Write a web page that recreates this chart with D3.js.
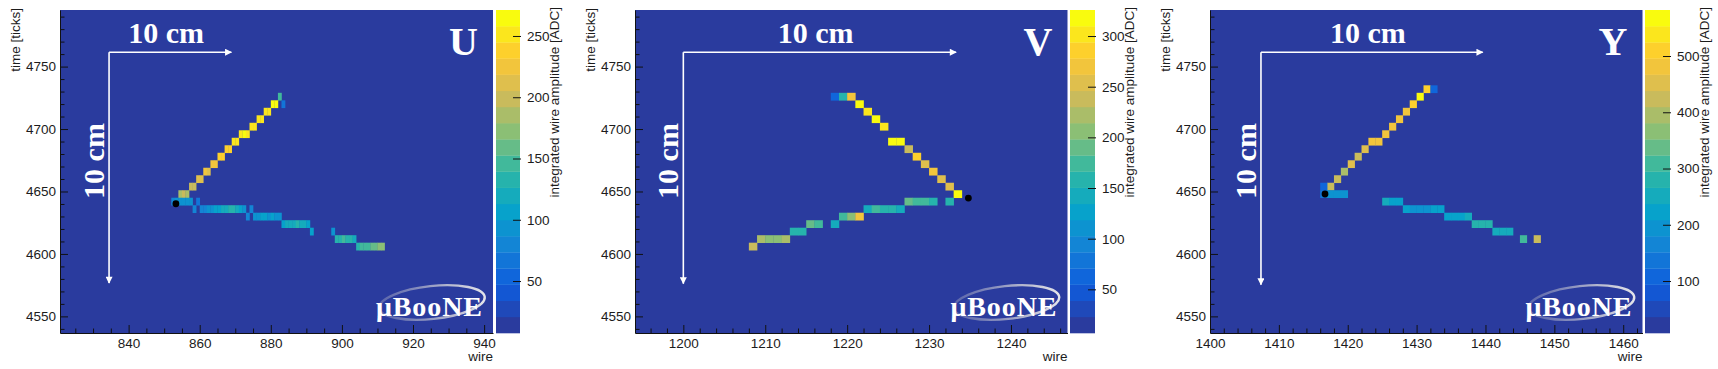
<!DOCTYPE html>
<html lang="en">
<head>
<meta charset="UTF-8">
<title>uBooNE event display - U, V, Y planes</title>
<script src="https://cdn.jsdelivr.net/npm/d3@7"></script>
<style>
  body { margin: 0; background: #fff; }
  svg text { font-family: "Liberation Sans", Arial, sans-serif; fill: #1c1c1c; }
  .serif { font-family: "Liberation Serif", "Times New Roman", serif; font-weight: bold; fill: #fff; }
  .tick line { stroke: #111; }
  .domain { stroke: #111; }
</style>
</head>
<body>
<script>
// each cell: [wire, time bin low edge (bins are 6 ticks), integrated ADC]
var uCells = [
  [882,4723,150],[883,4717,70],
  [880,4717,262],[881,4717,262],
  [878,4711,258],[879,4711,255],
  [876,4705,255],[877,4705,252],
  [874,4699,252],[875,4699,250],
  [871,4693,258],[872,4693,262],[873,4693,255],
  [869,4687,250],[870,4687,248],
  [867,4681,235],[868,4681,238],
  [865,4675,240],[866,4675,242],
  [863,4669,225],[864,4669,228],
  [861,4663,222],[862,4663,218],
  [859,4657,215],[860,4657,212],
  [857,4651,200],[858,4651,205],
  [854,4645,190],[855,4645,195],[856,4645,192],
  [852,4639,85],[853,4639,95],[854,4639,98],[855,4639,95],[856,4639,92],[857,4639,88],
  [859,4639,70],[858,4633,75],
  [860,4633,80],[861,4633,85],[862,4633,90],[863,4633,95],[864,4633,100],[865,4633,110],
  [866,4633,115],[867,4633,125],[868,4633,128],[869,4633,132],[870,4633,115],[871,4633,100],[872,4633,90],
  [873,4627,80],[874,4633,75],
  [875,4627,90],[876,4627,95],[877,4627,100],[878,4627,102],[879,4627,96],[880,4627,100],[881,4627,95],[882,4627,90],
  [883,4621,112],[884,4621,118],[885,4621,122],[886,4621,126],[887,4621,128],[888,4621,122],[889,4621,118],[890,4621,112],
  [891,4615,100],[897,4615,95],
  [898,4609,130],[899,4609,135],[900,4609,140],[901,4609,136],[902,4609,130],[903,4609,125],
  [904,4603,135],[905,4603,140],[906,4603,145],[907,4603,150],[908,4603,155],[909,4603,165],[910,4603,172],[911,4603,178]
];
var vCells = [
  [1218,4723,70],[1219,4723,160],[1220,4723,270],
  [1221,4717,310],[1222,4711,305],[1223,4705,315],[1224,4699,305],
  [1225,4687,310],[1226,4687,318],
  [1227,4681,245],[1228,4675,290],[1229,4669,255],[1230,4663,275],
  [1231,4657,250],[1232,4651,250],[1233,4645,322],
  [1232,4639,165],
  [1227,4639,190],[1228,4639,180],[1229,4639,170],[1230,4639,160],
  [1222,4633,150],[1223,4633,175],[1224,4633,160],[1225,4633,155],[1226,4633,150],
  [1219,4627,180],[1220,4627,200],[1221,4627,265],
  [1218,4621,150],[1215,4621,185],[1216,4621,180],
  [1213,4615,155],[1214,4615,160],
  [1209,4609,215],[1210,4609,210],[1211,4609,210],[1212,4609,220],
  [1208,4603,240]
];
var yCells = [
  [1431,4729,500],[1432,4729,120],
  [1430,4723,565],[1429,4717,520],[1428,4711,490],[1427,4705,480],
  [1426,4699,470],[1425,4693,480],[1423,4687,470],[1424,4687,475],
  [1422,4681,440],[1421,4675,420],[1420,4669,440],[1419,4663,400],
  [1418,4657,430],[1417,4651,410],[1416,4651,120],
  [1416,4645,130],[1417,4645,185],[1418,4645,195],[1419,4645,185],
  [1425,4639,260],[1426,4639,235],[1427,4639,225],
  [1428,4633,215],[1429,4633,205],[1430,4633,200],[1431,4633,205],[1432,4633,210],[1433,4633,235],
  [1434,4627,220],[1435,4627,225],[1436,4627,230],[1437,4627,240],
  [1438,4621,270],[1439,4621,275],[1440,4621,280],
  [1441,4615,250],[1442,4615,260],[1443,4615,265],
  [1445,4609,320],[1447,4609,420]
];

// reconstructed vertex [wire, time]
var uVertex = [853.3, 4640.2];
var vVertex = [1234.8, 4644.7];
var yVertex = [1416.7, 4648.0];

// 10 cm scale bar: [corner wire, corner time, end wire, end time]
var uScaleBar = [834.5, 4761.5, 868.9, 4576.7];
var vScaleBar = [1200, 4761.5, 1233.3, 4576.2];
var yScaleBar = [1407.4, 4761.5, 1439.6, 4575.4];

var uWireRange = [820.7, 942.5];
var vWireRange = [1194.1, 1246.9];
var yWireRange = [1400, 1462.8];
var timeRange = [4536.7, 4795.3];

var uAdcRange = [7.6, 271.2];
var vAdcRange = [6.9, 325.7];
var yAdcRange = [7.6, 581.8];

var uWireTicks = [840, 860, 880, 900, 920, 940];
var vWireTicks = [1200, 1210, 1220, 1230, 1240];
var yWireTicks = [1400, 1410, 1420, 1430, 1440, 1450, 1460];
var timeTicks = [4550, 4600, 4650, 4700, 4750];
var uAdcTicks = [50, 100, 150, 200, 250];
var vAdcTicks = [50, 100, 150, 200, 250, 300];
var yAdcTicks = [100, 200, 300, 400, 500];

var planeNames = ['U', 'V', 'Y'];

// ROOT kBird-like palette, 20 contours
var birdStops = ['#2a3b9e', '#0f5cdd', '#1481d6', '#06a4ca', '#2eb7a4', '#87bf77', '#d1bb59', '#fec832', '#f9fb0e'];
var palette = d3.scaleLinear()
  .domain(d3.range(9).map(function(i){ return i / 8; }))
  .range(birdStops)
  .interpolate(d3.interpolateRgb);
var nBands = 20;
var bandColors = d3.range(nBands).map(function(i){ return palette(i / (nBands - 1)); });

var W = 1718, H = 369, plotTop = 10, plotBottom = 333;
var fmt = d3.format('d');

var panels = [
  {cells: uCells, vertex: uVertex, bar: uScaleBar, wires: uWireRange, adc: uAdcRange, xt: uWireTicks, xMinor: 5, ct: uAdcTicks, left: 60, right: 493, cbL: 496, cbR: 520},
  {cells: vCells, vertex: vVertex, bar: vScaleBar, wires: vWireRange, adc: vAdcRange, xt: vWireTicks, xMinor: 2, ct: vAdcTicks, left: 635, right: 1067.5, cbL: 1070, cbR: 1095},
  {cells: yCells, vertex: yVertex, bar: yScaleBar, wires: yWireRange, adc: yAdcRange, xt: yWireTicks, xMinor: 2, ct: yAdcTicks, left: 1210, right: 1642.5, cbL: 1645, cbR: 1670}
];

var svg = d3.select('body').append('svg')
  .attr('width', W)
  .attr('height', H);

var defs = svg.append('defs');
defs.append('marker')
  .attr('id', 'arr')
  .attr('viewBox', '0 0 10 10')
  .attr('refX', 9).attr('refY', 5)
  .attr('markerWidth', 8).attr('markerHeight', 7)
  .attr('markerUnits', 'userSpaceOnUse')
  .attr('orient', 'auto')
  .append('path').attr('d', 'M0,0L10,5L0,10z').attr('fill', '#fff');

var grad = defs.append('linearGradient').attr('id', 'swoosh')
  .attr('x1', '0%').attr('x2', '100%').attr('y1', '0%').attr('y2', '0%');
grad.append('stop').attr('offset', '0%').attr('stop-color', '#8a8fb8').attr('stop-opacity', 0.5);
grad.append('stop').attr('offset', '70%').attr('stop-color', '#c9cad6').attr('stop-opacity', 0.9);
grad.append('stop').attr('offset', '100%').attr('stop-color', '#e4e4ea').attr('stop-opacity', 1);

panels.forEach(function(p, pi){
  var x = d3.scaleLinear().domain(p.wires).range([p.left, p.right]);
  var y = d3.scaleLinear().domain(timeRange).range([plotBottom, plotTop]);
  var c = d3.scaleQuantize().domain(p.adc).range(bandColors);
  var cy = d3.scaleLinear().domain(p.adc).range([plotBottom, plotTop]);

  var g = svg.append('g');

  // frame background (empty bins)
  g.append('rect')
    .attr('x', p.left).attr('y', plotTop)
    .attr('width', p.right - p.left).attr('height', plotBottom - plotTop)
    .attr('fill', bandColors[0]);

  // bins
  g.selectAll('.cell')
    .data(p.cells)
    .enter().append('rect')
    .attr('class', 'cell')
    .attr('x', function(d){ return x(d[0]); })
    .attr('y', function(d){ return y(d[1] + 6); })
    .attr('width', function(d){ return x(d[0] + 1) - x(d[0]) + 0.3; })
    .attr('height', function(d){ return y(d[1]) - y(d[1] + 6) + 0.3; })
    .attr('fill', function(d){ return c(d[2]); });

  // vertex
  g.append('circle')
    .attr('cx', x(p.vertex[0])).attr('cy', y(p.vertex[1]))
    .attr('r', 3.4).attr('fill', '#000');

  // 10 cm scale bars
  var b = p.bar;
  g.append('line')
    .attr('x1', x(b[0])).attr('y1', y(b[1]))
    .attr('x2', x(b[2])).attr('y2', y(b[1]))
    .attr('stroke', '#fff').attr('stroke-width', 1.6)
    .attr('marker-end', 'url(#arr)');
  g.append('line')
    .attr('x1', x(b[0])).attr('y1', y(b[1]))
    .attr('x2', x(b[0])).attr('y2', y(b[3]))
    .attr('stroke', '#fff').attr('stroke-width', 1.6)
    .attr('marker-end', 'url(#arr)');
  g.append('text').attr('class', 'serif')
    .attr('x', (x(b[0]) + x(b[2])) / 2 - 4)
    .attr('y', y(b[1]) - 9.5)
    .attr('text-anchor', 'middle')
    .style('font-size', '30px')
    .text('10 cm');
  g.append('text').attr('class', 'serif')
    .attr('transform', 'translate(' + (x(b[0]) - 5) + ',' + 161 + ') rotate(-90)')
    .attr('text-anchor', 'middle')
    .style('font-size', '30px')
    .text('10 cm');

  // plane name
  g.append('text').attr('class', 'serif')
    .attr('x', p.right - 15).attr('y', 55)
    .attr('text-anchor', 'end')
    .style('font-size', '40px')
    .text(planeNames[pi]);

  // logo
  g.append('ellipse')
    .attr('cx', p.right - 61).attr('cy', 302.5)
    .attr('rx', 53).attr('ry', 16.5)
    .attr('transform', 'rotate(-6,' + (p.right - 61) + ',302.5)')
    .attr('fill', 'none')
    .attr('stroke', 'url(#swoosh)')
    .attr('stroke-width', 2.4);
  g.append('text').attr('class', 'serif')
    .attr('x', p.right - 11).attr('y', 316)
    .attr('text-anchor', 'end')
    .attr('textLength', 106)
    .style('font-size', '28px')
    .text('\u03bcBooNE');

  // axes
  var yMinor = d3.range(4540, 4795, 10).filter(function(t){ return t % 50 !== 0; });
  g.append('g')
    .attr('transform', 'translate(' + p.left + ',0)')
    .call(d3.axisLeft(y).tickValues(yMinor).tickSize(-4.5).tickFormat(''))
    .call(function(s){ s.select('.domain').remove(); });
  g.append('g')
    .attr('transform', 'translate(' + p.left + ',0)')
    .call(d3.axisLeft(y).tickValues(timeTicks).tickFormat(fmt).tickSize(-8).tickSizeOuter(0).tickPadding(4))
    .call(function(s){ s.selectAll('text').style('font-size', '13.5px'); });

  var xMinor = d3.range(Math.ceil(p.wires[0] / p.xMinor) * p.xMinor, p.wires[1], p.xMinor)
    .filter(function(w){ return p.xt.indexOf(w) < 0; });
  g.append('g')
    .attr('transform', 'translate(0,' + plotBottom + ')')
    .call(d3.axisBottom(x).tickValues(xMinor).tickSize(-4.5).tickFormat(''))
    .call(function(s){ s.select('.domain').remove(); });
  g.append('g')
    .attr('transform', 'translate(0,' + plotBottom + ')')
    .call(d3.axisBottom(x).tickValues(p.xt).tickFormat(fmt).tickSize(-8).tickSizeOuter(0).tickPadding(5))
    .call(function(s){ s.selectAll('text').style('font-size', '13.5px'); });

  g.append('text')
    .attr('transform', 'translate(' + (p.left - 40) + ',' + (plotTop - 2) + ') rotate(-90)')
    .attr('text-anchor', 'end')
    .style('font-size', '13.5px')
    .text('time [ticks]');
  g.append('text')
    .attr('x', p.right).attr('y', 361)
    .attr('text-anchor', 'end')
    .style('font-size', '13.5px')
    .text('wire');

  // colour bar
  var step = (p.adc[1] - p.adc[0]) / nBands;
  g.selectAll('.band')
    .data(bandColors)
    .enter().append('rect')
    .attr('class', 'band')
    .attr('x', p.cbL)
    .attr('y', function(d, i){ return cy(p.adc[0] + (i + 1) * step); })
    .attr('width', p.cbR - p.cbL)
    .attr('height', function(d, i){ return cy(p.adc[0] + i * step) - cy(p.adc[0] + (i + 1) * step) + 0.3; })
    .attr('fill', function(d){ return d; });
  g.append('g')
    .attr('transform', 'translate(' + p.cbR + ',0)')
    .call(d3.axisRight(cy).tickValues(p.ct).tickFormat(fmt).tickSize(-7).tickSizeOuter(0).tickPadding(7))
    .call(function(s){
      s.select('.domain').remove();
      s.selectAll('text').style('font-size', '13.5px');
      s.selectAll('.tick line').attr('x2', -7).attr('x1', 1).attr('stroke', '#333');
    });
  g.append('text')
    .attr('transform', 'translate(' + (p.cbR + 39) + ',' + 7 + ') rotate(-90)')
    .attr('text-anchor', 'end')
    .style('font-size', '13.5px')
    .text('integrated wire amplitude [ADC]');
});
</script>
</body>
</html>
